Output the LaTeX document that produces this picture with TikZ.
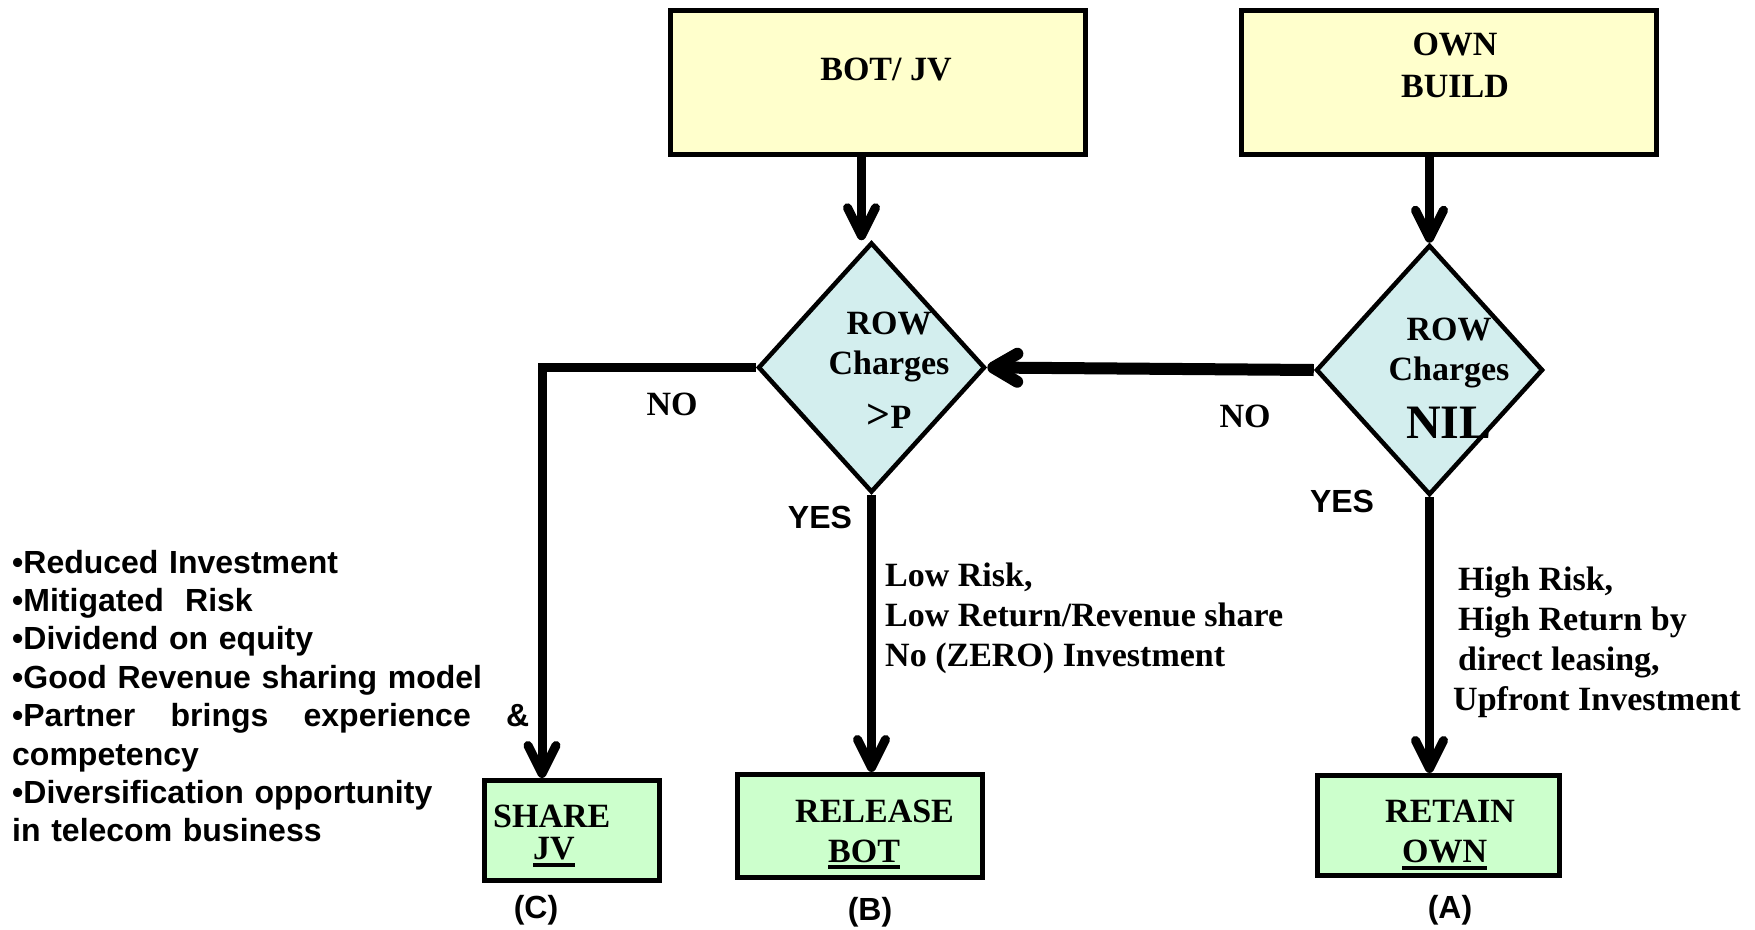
\documentclass[tikz,border=0pt]{standalone}
\usepackage{fontspec}
\setmainfont{Liberation Serif}
\setsansfont{Liberation Sans}
\usetikzlibrary{shapes.geometric,arrows.meta}
\newcommand{\undl}[1]{\vtop{\hbox{#1}\kern3pt\hrule height 4pt}}
\definecolor{startyellow}{RGB}{255,255,204}
\definecolor{testcyan}{RGB}{211,238,238}
\definecolor{endgreen}{RGB}{204,255,204}
\tikzset{
  startbox/.style = {rectangle, draw=black, line width=5pt, fill=startyellow, minimum width=415pt, minimum height=144pt, inner sep=0pt},
  testnode/.style = {diamond, draw=black, line width=4.5pt, fill=testcyan, minimum width=227pt, minimum height=250pt, inner sep=0pt},
  endbox/.style = {rectangle, draw=black, line width=5pt, fill=endgreen, inner sep=0pt},
  rmtext/.style = {font=\bfseries\fontsize{34}{40}\selectfont, inner sep=0pt},
  sftext/.style = {font=\sffamily\bfseries\fontsize{32}{38.4}\selectfont, inner sep=0pt},
  flow/.style = {line width=9pt, -{Straight Barb[length=28pt,width=28pt,round]}},
  noflow/.style = {line width=12pt, -{Straight Barb[length=24pt,width=28pt,round]}},
}

\begin{document}
\begin{tikzpicture}[x=1pt, y=-1pt]
\path[use as bounding box, fill=white] (0,0) rectangle (1755,929);

% top boxes and tests
\node [startbox] (bot) at (878,82.5) {};
\node [startbox] (own) at (1449,82.5) {};
\node [testnode] (d1) at (871.5,367.5) {};
\node [testnode] (d2) at (1429.5,370) {};

% outcomes
\node [endbox, minimum width=175pt, minimum height=100pt] (share) at (572,830.5) {};
\node [endbox, minimum width=245pt, minimum height=103pt] (release) at (860,826) {};
\node [endbox, minimum width=242pt, minimum height=100pt] (retain) at (1438.5,825.5) {};

\draw [flow] ([xshift=-10pt]bot.south -| d1.north) -- ([xshift=-10pt]d1.north);
\draw [flow] (own.south -| d2.north) -- (d2.north);
\draw [noflow] (d2.west) -- (d1.east);
\draw [flow] (d1.west) -| ([xshift=60pt]share.north west);
\draw [flow] (d1.south) -- (release.north -| d1.south);
\draw [flow] (d2.south) -- (retain.north -| d2.south);

% multi-line texts sit on their last baseline
\node [rmtext, anchor=base] (botT) at (886,80) {BOT/ JV};
\node [rmtext, anchor=base, align=center] (ownT) at (1455,97) {OWN\\[2pt]BUILD};
\node [rmtext, anchor=base, align=center] (d1T) at (889,428) {ROW\\Charges\\[14pt]{\fontsize{42}{40}\selectfont>}P};
\node [rmtext, anchor=base, align=center] (d2T) at (1449,438) {ROW\\Charges\\[18pt]{\fontsize{48}{48}\selectfont NIL}};

\node [rmtext, anchor=base] (noL) at (672,415) {NO};
\node [rmtext, anchor=base] (noR) at (1245,427) {NO};
\node [sftext, anchor=base] (yesL) at (820,528) {YES};
\node [sftext, anchor=base] (yesR) at (1342,512) {YES};

\node [rmtext, anchor=base west, align=left] (lowT) at (885,666) {Low Risk,\\Low Return/Revenue share\\No (ZERO) Investment};
\node [rmtext, anchor=base west, align=left] (highT) at (1458,710) {High Risk,\\High Return by\\direct leasing,\\\hspace*{-5pt}Upfront Investment};

\node [rmtext, anchor=base west, align=left] (shareT) at (493,859) {SHARE\\[-8pt]\hspace*{40pt}\undl{JV}};
\node [rmtext, anchor=base west, align=left] (releaseT) at (795,862) {RELEASE\\\hspace*{33pt}\undl{BOT}};
\node [rmtext, anchor=base west, align=left] (retainT) at (1385,862) {RETAIN\\\hspace*{17pt}\undl{OWN}};

\node [sftext, anchor=base] (labC) at (536,918) {(C)};
\node [sftext, anchor=base] (labB) at (870,920) {(B)};
\node [sftext, anchor=base] (labA) at (1450,918) {(A)};

\node [sftext, anchor=base west, text width=517pt, align=left] (gains) at (12,573)
  {•Reduced Investment\\•Mitigated\ \ Risk\\•Dividend on equity\\•Good Revenue sharing model\\•Partner\hfill brings\hfill experience\hfill \&\\competency\\•Diversification opportunity\\in telecom business};
\end{tikzpicture}
\end{document}
